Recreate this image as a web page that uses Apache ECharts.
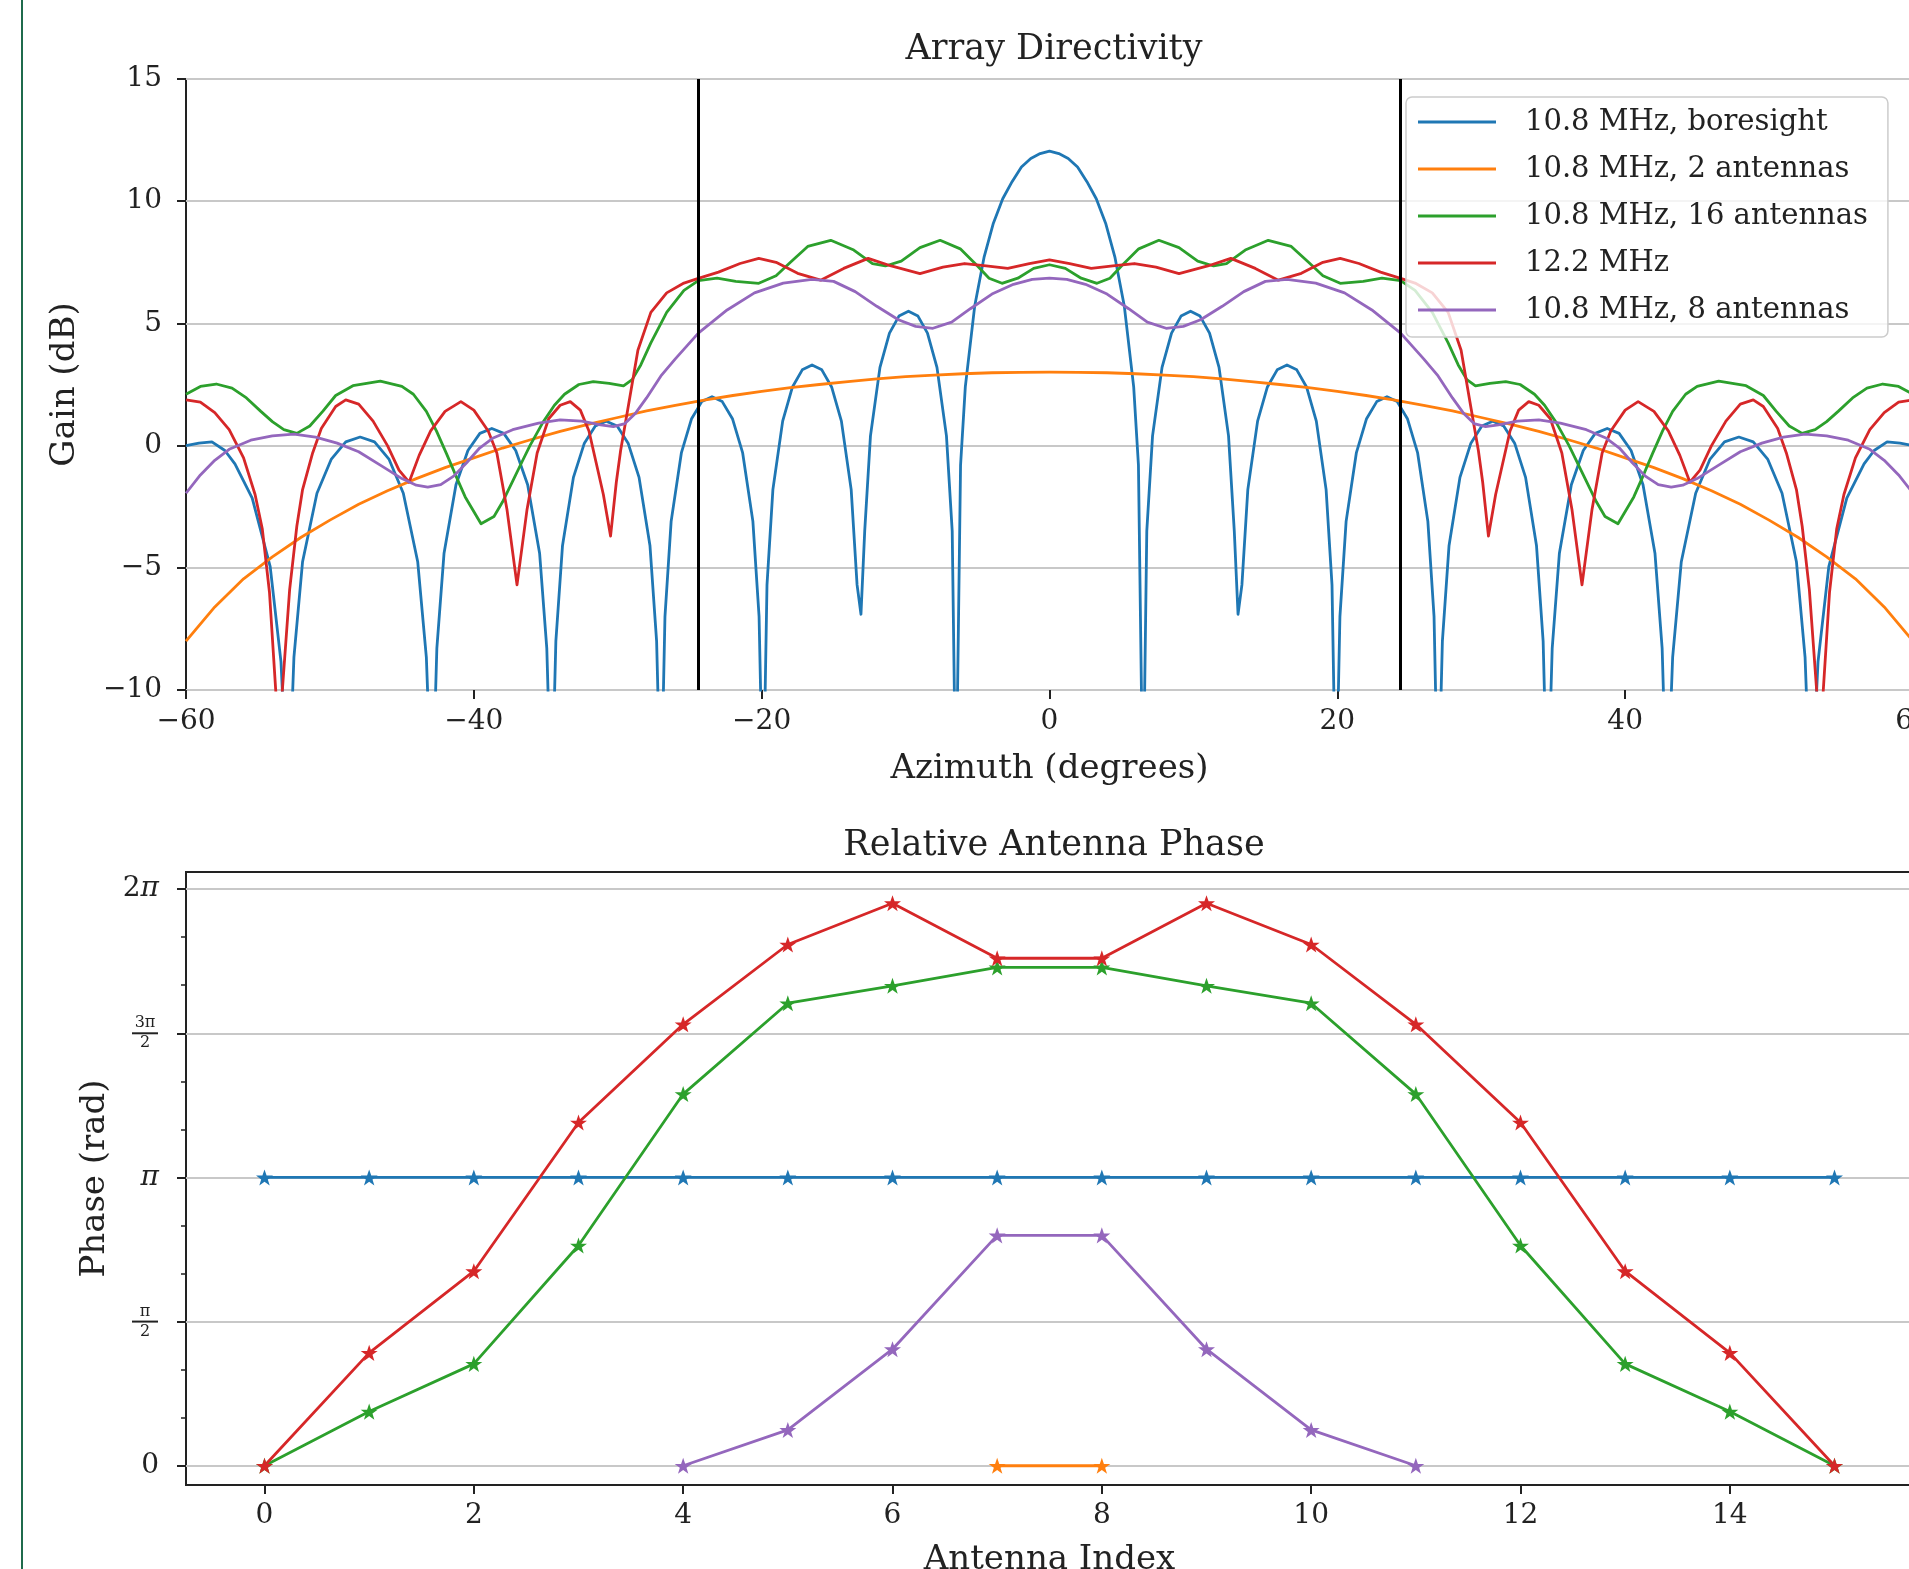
<!DOCTYPE html>
<html lang="en">
<head>
<meta charset="UTF-8">
<title>Array Directivity</title>
<style>
  html, body { margin: 0; padding: 0; overflow: hidden; background: #fff; }
  #main { width: 1960px; height: 1600px; }
</style>
</head>
<body>
<div id="main"></div>
<script src="https://cdn.jsdelivr.net/npm/echarts@6.0.0/dist/echarts.min.js"></script>
<script>
// top panel: [azimuth (deg), gain (dB)]
const gainBoresight = [
  [-60, 0.0], [-59.1, 0.1], [-58.2, 0.15], [-57.3, -0.2], [-56.6, -0.75], [-55.4, -2.15], [-54.15, -4.95], [-53.4, -8.85], [-52.9, -15],
  [-52.5, -8.65], [-51.9, -4.75], [-50.9, -1.95], [-49.9, -0.55], [-48.9, 0.15], [-47.9, 0.35], [-46.9, 0.15], [-45.9, -0.55], [-44.9, -1.95], [-43.9, -4.75], [-43.3, -8.65], [-42.9, -15],
  [-42.57, -8.3], [-42.07, -4.4], [-41.24, -1.6], [-40.41, -0.2], [-39.58, 0.5], [-38.75, 0.7], [-37.92, 0.5], [-37.09, -0.2], [-36.26, -1.6], [-35.43, -4.4], [-34.93, -8.3], [-34.6, -15],
  [-34.3, -8.0], [-33.84, -4.1], [-33.08, -1.3], [-32.32, 0.1], [-31.56, 0.8], [-30.8, 1.0], [-30.04, 0.8], [-29.28, 0.1], [-28.52, -1.3], [-27.76, -4.1], [-27.3, -8.0], [-27.0, -15],
  [-26.72, -7.0], [-26.29, -3.1], [-25.58, -0.3], [-24.87, 1.1], [-24.16, 1.8], [-23.45, 2.0], [-22.74, 1.8], [-22.03, 1.1], [-21.32, -0.3], [-20.61, -3.1], [-20.18, -7.0], [-19.9, -15],
  [-19.63, -5.7], [-19.22, -1.8], [-18.54, 1.0], [-17.86, 2.4], [-17.18, 3.1], [-16.5, 3.3], [-15.82, 3.1], [-15.14, 2.4], [-14.46, 1.0], [-13.78, -1.8], [-13.37, -5.7], [-13.1, -6.9],
  [-12.84, -3.5], [-12.44, 0.4], [-11.78, 3.2], [-11.12, 4.6], [-10.46, 5.3], [-9.8, 5.5], [-9.14, 5.3], [-8.48, 4.6], [-7.82, 3.2], [-7.16, 0.4], [-6.76, -3.5], [-6.5, -15],
  [-6.18, -0.8], [-5.85, 2.4], [-5.2, 5.7], [-4.55, 7.7], [-3.9, 9.1], [-3.25, 10.1], [-2.6, 10.8], [-1.95, 11.4], [-1.3, 11.75], [-0.65, 11.95], [0, 12.05],
  [0.65, 11.95], [1.3, 11.75], [1.95, 11.4], [2.6, 10.8], [3.25, 10.1], [3.9, 9.1], [4.55, 7.7], [5.2, 5.7], [5.85, 2.4], [6.18, -0.8], [6.5, -15],
  [6.76, -3.5], [7.16, 0.4], [7.82, 3.2], [8.48, 4.6], [9.14, 5.3], [9.8, 5.5], [10.46, 5.3], [11.12, 4.6], [11.78, 3.2], [12.44, 0.4], [12.84, -3.5], [13.1, -6.9],
  [13.37, -5.7], [13.78, -1.8], [14.46, 1.0], [15.14, 2.4], [15.82, 3.1], [16.5, 3.3], [17.18, 3.1], [17.86, 2.4], [18.54, 1.0], [19.22, -1.8], [19.63, -5.7], [19.9, -15],
  [20.18, -7.0], [20.61, -3.1], [21.32, -0.3], [22.03, 1.1], [22.74, 1.8], [23.45, 2.0], [24.16, 1.8], [24.87, 1.1], [25.58, -0.3], [26.29, -3.1], [26.72, -7.0], [27.0, -15],
  [27.3, -8.0], [27.76, -4.1], [28.52, -1.3], [29.28, 0.1], [30.04, 0.8], [30.8, 1.0], [31.56, 0.8], [32.32, 0.1], [33.08, -1.3], [33.84, -4.1], [34.3, -8.0], [34.6, -15],
  [34.93, -8.3], [35.43, -4.4], [36.26, -1.6], [37.09, -0.2], [37.92, 0.5], [38.75, 0.7], [39.58, 0.5], [40.41, -0.2], [41.24, -1.6], [42.07, -4.4], [42.57, -8.3], [42.9, -15],
  [43.3, -8.65], [43.9, -4.75], [44.9, -1.95], [45.9, -0.55], [46.9, 0.15], [47.9, 0.35], [48.9, 0.15], [49.9, -0.55], [50.9, -1.95], [51.9, -4.75], [52.5, -8.65], [52.9, -15],
  [53.4, -8.85], [54.15, -4.95], [55.4, -2.15], [56.6, -0.75], [57.3, -0.2], [58.2, 0.15], [59.1, 0.1], [60, 0.0]
];

const gain2 = [
  [-60, -8.0], [-58, -6.6], [-56, -5.45], [-54, -4.55], [-52, -3.75], [-50, -3.05], [-48, -2.4], [-46, -1.85],
  [-44, -1.35], [-42, -0.9], [-40, -0.5], [-38, -0.1], [-36, 0.25], [-34, 0.58], [-32, 0.88], [-30, 1.15],
  [-28, 1.42], [-26, 1.65], [-24, 1.86], [-22, 2.05], [-20, 2.22], [-18, 2.37], [-16, 2.5], [-14, 2.62],
  [-12, 2.73], [-10, 2.82], [-8, 2.88], [-6, 2.94], [-4, 2.98], [-2, 3.0], [0, 3.01],
  [2, 3.0], [4, 2.98], [6, 2.94], [8, 2.88], [10, 2.82], [12, 2.73], [14, 2.62], [16, 2.5], [18, 2.37],
  [20, 2.22], [22, 2.05], [24, 1.86], [26, 1.65], [28, 1.42], [30, 1.15], [32, 0.88], [34, 0.58], [36, 0.25],
  [38, -0.1], [40, -0.5], [42, -0.9], [44, -1.35], [46, -1.85], [48, -2.4], [50, -3.05], [52, -3.75],
  [54, -4.55], [56, -5.45], [58, -6.6], [60, -8.0]
];

const gain16 = [
  [-60, 2.1], [-59, 2.42], [-57.9, 2.52], [-56.8, 2.35], [-55.8, 1.95], [-54.8, 1.4], [-54, 0.98], [-53.2, 0.65],
  [-52.3, 0.5], [-51.4, 0.8], [-50.5, 1.4], [-49.6, 2.05], [-48.4, 2.45], [-46.5, 2.64], [-45, 2.42], [-44.2, 2.1],
  [-43.3, 1.4], [-42.6, 0.6], [-41.9, -0.33], [-41.2, -1.3], [-40.6, -2.1], [-39.5, -3.2], [-38.6, -2.9], [-38.0, -2.3],
  [-37.3, -1.45], [-36.6, -0.6], [-36.1, 0.0], [-35.2, 0.95], [-34.4, 1.65], [-33.7, 2.1], [-32.7, 2.5], [-31.7, 2.62],
  [-30.6, 2.55], [-29.6, 2.44], [-29.0, 2.7], [-28.4, 3.3], [-27.7, 4.2], [-26.6, 5.45], [-25.4, 6.35], [-24.4, 6.75],
  [-23.1, 6.85], [-21.8, 6.72], [-20.2, 6.64], [-19.0, 6.95], [-18.0, 7.5], [-16.8, 8.15], [-15.2, 8.4], [-13.6, 8.0],
  [-12.3, 7.45], [-11.4, 7.35], [-10.3, 7.55], [-9.0, 8.1], [-7.6, 8.4], [-6.2, 8.05], [-5.0, 7.35], [-4.2, 6.85],
  [-3.3, 6.64], [-2.2, 6.85], [-1.1, 7.25], [0, 7.4],
  [1.1, 7.25], [2.2, 6.85], [3.3, 6.64], [4.2, 6.85], [5.0, 7.35], [6.2, 8.05], [7.6, 8.4], [9.0, 8.1],
  [10.3, 7.55], [11.4, 7.35], [12.3, 7.45], [13.6, 8.0], [15.2, 8.4], [16.8, 8.15], [18.0, 7.5], [19.0, 6.95],
  [20.2, 6.64], [21.8, 6.72], [23.1, 6.85], [24.4, 6.75], [25.4, 6.35], [26.6, 5.45], [27.7, 4.2], [28.4, 3.3],
  [29.0, 2.7], [29.6, 2.44], [30.6, 2.55], [31.7, 2.62], [32.7, 2.5], [33.7, 2.1], [34.4, 1.65], [35.2, 0.95],
  [36.1, 0.0], [36.6, -0.6], [37.3, -1.45], [38.0, -2.3], [38.6, -2.9], [39.5, -3.2], [40.6, -2.1], [41.2, -1.3],
  [41.9, -0.33], [42.6, 0.6], [43.3, 1.4], [44.2, 2.1], [45, 2.42], [46.5, 2.64], [48.4, 2.45], [49.6, 2.05],
  [50.5, 1.4], [51.4, 0.8], [52.3, 0.5], [53.2, 0.65], [54, 0.98], [54.8, 1.4], [55.8, 1.95], [56.8, 2.35],
  [57.9, 2.52], [59, 2.42], [60, 2.1]
];

const gain122 = [
  [-60, 1.87], [-59, 1.78], [-58, 1.35], [-57, 0.65], [-56, -0.5], [-55.2, -2.0], [-54.7, -3.4], [-54.2, -6.0],
  [-53.55, -12], [-52.8, -5.9], [-52.3, -3.3], [-51.9, -1.8], [-51.2, -0.3], [-50.6, 0.7], [-49.6, 1.6], [-48.9, 1.87],
  [-48, 1.7], [-47, 1.0], [-46, 0.0], [-45.2, -1.0], [-44.5, -1.5], [-43.8, -0.4], [-43, 0.6], [-42, 1.4],
  [-40.9, 1.8], [-40, 1.45], [-39, 0.6], [-38.4, -0.3], [-37.7, -2.6], [-37.0, -5.7], [-36.3, -2.6], [-35.6, -0.3],
  [-34.8, 1.1], [-34, 1.65], [-33.3, 1.8], [-32.6, 1.45], [-32, 0.6], [-31.5, -0.7], [-31, -2.0], [-30.5, -3.7],
  [-30.1, -1.5], [-29.8, -0.2], [-29.3, 1.5], [-28.6, 3.9], [-27.7, 5.45], [-26.6, 6.25], [-25.4, 6.65], [-24.4, 6.84],
  [-23, 7.1], [-21.5, 7.45], [-20.2, 7.66], [-19, 7.5], [-17.5, 7.05], [-15.9, 6.77], [-14.3, 7.25], [-12.6, 7.66],
  [-11, 7.35], [-9.0, 7.04], [-7.4, 7.3], [-5.9, 7.45], [-4.4, 7.35], [-2.9, 7.25], [-1.4, 7.45], [0, 7.6],
  [1.4, 7.45], [2.9, 7.25], [4.4, 7.35], [5.9, 7.45], [7.4, 7.3], [9.0, 7.04], [11, 7.35], [12.6, 7.66],
  [14.3, 7.25], [15.9, 6.77], [17.5, 7.05], [19, 7.5], [20.2, 7.66], [21.5, 7.45], [23, 7.1], [24.4, 6.84],
  [25.4, 6.65], [26.6, 6.25], [27.7, 5.45], [28.6, 3.9], [29.3, 1.5], [29.8, -0.2], [30.1, -1.5], [30.5, -3.7],
  [31, -2.0], [31.5, -0.7], [32, 0.6], [32.6, 1.45], [33.3, 1.8], [34, 1.65], [34.8, 1.1], [35.6, -0.3],
  [36.3, -2.6], [37.0, -5.7], [37.7, -2.6], [38.4, -0.3], [39, 0.6], [40, 1.45], [40.9, 1.8], [42, 1.4],
  [43, 0.6], [43.8, -0.4], [44.5, -1.5], [45.2, -1.0], [46, 0.0], [47, 1.0], [48, 1.7], [48.9, 1.87],
  [49.6, 1.6], [50.6, 0.7], [51.2, -0.3], [51.9, -1.8], [52.3, -3.3], [52.8, -5.9], [53.55, -12], [54.2, -6.0],
  [54.7, -3.4], [55.2, -2.0], [56, -0.5], [57, 0.65], [58, 1.35], [59, 1.78], [60, 1.87]
];

const gain8 = [
  [-60, -1.95], [-59, -1.2], [-58, -0.6], [-57, -0.15], [-55.5, 0.22], [-54, 0.4], [-52.5, 0.47], [-51, 0.35],
  [-49.5, 0.1], [-48, -0.25], [-46.5, -0.8], [-45, -1.35], [-44, -1.62], [-43.2, -1.7], [-42.3, -1.6], [-41.4, -1.25],
  [-40.5, -0.7], [-39.6, -0.1], [-38.7, 0.3], [-37.3, 0.65], [-35.5, 0.92], [-34, 1.05], [-32.5, 1.0], [-31.2, 0.85],
  [-30.3, 0.78], [-29.5, 0.9], [-28.8, 1.3], [-28, 1.95], [-27, 2.85], [-26, 3.55], [-24.4, 4.6], [-22.4, 5.55],
  [-20.5, 6.25], [-18.5, 6.65], [-16.5, 6.8], [-15, 6.72], [-13.5, 6.3], [-12, 5.7], [-10.5, 5.15], [-9.3, 4.88],
  [-8.1, 4.8], [-6.8, 5.05], [-5.5, 5.6], [-4, 6.2], [-2.5, 6.6], [-1.2, 6.8], [0, 6.85],
  [1.2, 6.8], [2.5, 6.6], [4, 6.2], [5.5, 5.6], [6.8, 5.05], [8.1, 4.8], [9.3, 4.88], [10.5, 5.15],
  [12, 5.7], [13.5, 6.3], [15, 6.72], [16.5, 6.8], [18.5, 6.65], [20.5, 6.25], [22.4, 5.55], [24.4, 4.6],
  [26, 3.55], [27, 2.85], [28, 1.95], [28.8, 1.3], [29.5, 0.9], [30.3, 0.78], [31.2, 0.85], [32.5, 1.0],
  [34, 1.05], [35.5, 0.92], [37.3, 0.65], [38.7, 0.3], [39.6, -0.1], [40.5, -0.7], [41.4, -1.25], [42.3, -1.6],
  [43.2, -1.7], [44, -1.62], [45, -1.35], [46.5, -0.8], [48, -0.25], [49.5, 0.1], [51, 0.35], [52.5, 0.47],
  [54, 0.4], [55.5, 0.22], [57, -0.15], [58, -0.6], [59, -1.2], [60, -1.95]
];

// vertical markers on the directivity plot (deg)
const scanEdges = [-24.4, 24.4];

// bottom panel: relative phase (rad) per antenna index
const antennaIndex = [0, 1, 2, 3, 4, 5, 6, 7, 8, 9, 10, 11, 12, 13, 14, 15];
const phaseBoresight = [3.1416, 3.1416, 3.1416, 3.1416, 3.1416, 3.1416, 3.1416, 3.1416, 3.1416, 3.1416, 3.1416, 3.1416, 3.1416, 3.1416, 3.1416, 3.1416];
const index2 = [7, 8];
const phase2 = [0, 0];
const phase16 = [0, 0.59, 1.11, 2.40, 4.05, 5.04, 5.23, 5.43, 5.43, 5.23, 5.04, 4.05, 2.40, 1.11, 0.59, 0];
const phase122 = [0, 1.23, 2.12, 3.74, 4.81, 5.68, 6.13, 5.53, 5.53, 6.13, 5.68, 4.81, 3.74, 2.12, 1.23, 0];
const index8 = [4, 5, 6, 7, 8, 9, 10, 11];
const phase8 = [0, 0.39, 1.27, 2.51, 2.51, 1.27, 0.39, 0];

const phaseTicks = [0, 1.5708, 3.1416, 4.7124, 6.2832];
const phaseTickLabels = ['0', '{n|π}\n{bar| }\n{d|2}', '{i|π}', '{n|3π}\n{bar| }\n{d|2}', '2{i|π}'];
const phaseMinorTicks = [0.5236, 1.0472, 2.0944, 2.618, 3.6652, 4.1888, 5.236, 5.7596];
const antennaTicks = [0, 2, 4, 6, 8, 10, 12, 14];

const seriesNames = ['10.8 MHz, boresight', '10.8 MHz, 2 antennas', '10.8 MHz, 16 antennas', '12.2 MHz', '10.8 MHz, 8 antennas'];
const colors = ['#1f77b4', '#ff7f0e', '#2ca02c', '#d62728', '#9467bd'];

const FONT = 'DejaVu Serif';
const INK = '#222222';
const STAR = 'path://M50,0 L61.8,35.1 98.1,35.1 68.8,56.8 79.4,91 50,70 20.6,91 31.2,56.8 1.9,35.1 38.2,35.1 Z';

function minusFmt(v) {
  return v < 0 ? '\u2212' + Math.abs(v) : String(v);
}

function gainSeries(i, data) {
  return {
    name: seriesNames[i],
    type: 'line',
    xAxisIndex: 0,
    yAxisIndex: 0,
    data: data,
    symbol: 'none',
    lineStyle: { color: colors[i], width: 2.8, join: 'round' },
    itemStyle: { color: colors[i] },
    z: 3
  };
}

function phaseSeries(i, xs, ys) {
  return {
    name: 'phase ' + i,
    type: 'line',
    xAxisIndex: 1,
    yAxisIndex: 1,
    data: xs.map((x, k) => [x, ys[k]]),
    symbol: STAR,
    symbolSize: 17,
    symbolKeepAspect: true,
    lineStyle: { color: colors[i], width: 2.8 },
    itemStyle: { color: colors[i] },
    z: 3
  };
}

const tickStyle = { show: true, inside: false, length: 9, lineStyle: { color: INK, width: 2 } };
const labelStyle = { fontFamily: FONT, fontSize: 28, color: INK };
const nameStyle = { fontFamily: FONT, fontSize: 34, color: INK };
const gridLine = { show: true, lineStyle: { color: '#c8c8c8', width: 2 } };
const hiddenLine = { show: false, onZero: false };

var chart = echarts.init(document.getElementById('main'), null, { renderer: 'canvas' });

const blueTop = gainSeries(0, gainBoresight);
blueTop.markLine = {
  silent: true,
  symbol: 'none',
  label: { show: false },
  lineStyle: { color: '#000', width: 3, type: 'solid' },
  data: scanEdges.map(x => ({ xAxis: x }))
};

var option = {
  animation: false,
  backgroundColor: '#ffffff',
  title: [
    { text: 'Array Directivity', left: 1049, top: 27, textAlign: 'center',
      textStyle: { fontFamily: FONT, fontSize: 35, fontWeight: 'normal', color: INK } },
    { text: 'Relative Antenna Phase', left: 1049, top: 823, textAlign: 'center',
      textStyle: { fontFamily: FONT, fontSize: 35, fontWeight: 'normal', color: INK } }
  ],
  graphic: [
    { type: 'rect', shape: { x: 21, y: 0, width: 2, height: 1600 }, style: { fill: '#1f6b4c' }, silent: true }
  ],
  legend: {
    data: seriesNames,
    orient: 'vertical',
    left: 1406,
    top: 97,
    icon: 'rect',
    itemWidth: 78,
    itemHeight: 3,
    itemGap: 17,
    padding: [10, 20, 12, 12],
    backgroundColor: 'rgba(255,255,255,0.8)',
    borderColor: '#cccccc',
    borderWidth: 1.5,
    borderRadius: 6,
    textStyle: { fontFamily: FONT, fontSize: 29, lineHeight: 30, color: INK, padding: [0, 0, 0, 24] }
  },
  grid: [
    { left: 186, top: 79, width: 1727, height: 611, show: true, borderColor: INK, borderWidth: 2,
      outerBoundsMode: 'none', containLabel: false },
    { left: 186, top: 872, width: 1727, height: 613, show: true, borderColor: INK, borderWidth: 2,
      outerBoundsMode: 'none', containLabel: false }
  ],
  xAxis: [
    {
      type: 'value', gridIndex: 0, position: 'bottom', min: -60, max: 60, interval: 20,
      axisLine: hiddenLine,
      axisTick: tickStyle,
      axisLabel: Object.assign({ margin: 18, formatter: minusFmt }, labelStyle),
      splitLine: { show: false },
      name: 'Azimuth (degrees)', nameLocation: 'middle', nameGap: 62, nameTextStyle: nameStyle
    },
    {
      type: 'value', gridIndex: 1, position: 'bottom', min: -0.75, max: 15.75,
      axisLine: hiddenLine,
      axisTick: Object.assign({ customValues: antennaTicks }, tickStyle),
      axisLabel: Object.assign({ margin: 17, customValues: antennaTicks }, labelStyle),
      splitLine: { show: false },
      name: 'Antenna Index', nameLocation: 'middle', nameGap: 58, nameTextStyle: nameStyle
    }
  ],
  yAxis: [
    {
      type: 'value', gridIndex: 0, position: 'left', min: -10, max: 15, interval: 5,
      axisLine: hiddenLine,
      axisTick: tickStyle,
      axisLabel: Object.assign({ margin: 24, formatter: minusFmt }, labelStyle),
      splitLine: gridLine,
      name: 'Gain (dB)', nameLocation: 'middle', nameGap: 104, nameTextStyle: nameStyle
    },
    {
      type: 'value', gridIndex: 1, position: 'left', min: -0.21, max: 6.47,
      axisLine: hiddenLine,
      axisTick: Object.assign({ customValues: phaseTicks }, tickStyle),
      axisLabel: Object.assign({
        margin: 27,
        customValues: phaseTicks,
        formatter: function (v) {
          const k = phaseTicks.findIndex(t => Math.abs(t - v) < 1e-3);
          return k >= 0 ? phaseTickLabels[k] : '';
        },
        rich: {
          i: { fontFamily: FONT, fontSize: 28, fontStyle: 'italic', color: INK },
          n: { fontFamily: FONT, fontSize: 16, lineHeight: 16, color: INK, width: 28, align: 'center' },
          d: { fontFamily: FONT, fontSize: 16, lineHeight: 16, color: INK, width: 28, align: 'center' },
          bar: { fontSize: 1, lineHeight: 4, height: 2, width: 26, backgroundColor: INK, align: 'center' }
        }
      }, labelStyle),
      splitLine: gridLine,
      name: 'Phase (rad)', nameLocation: 'middle', nameGap: 74, nameTextStyle: nameStyle
    },
    {
      type: 'value', gridIndex: 1, position: 'left', offset: 0, min: -0.21, max: 6.47,
      axisLine: hiddenLine,
      axisTick: { show: true, inside: false, length: 5, customValues: phaseMinorTicks, lineStyle: { color: INK, width: 1.5 } },
      axisLabel: { show: false },
      splitLine: { show: false }
    }
  ],
  series: [
    blueTop,
    gainSeries(1, gain2),
    gainSeries(2, gain16),
    gainSeries(3, gain122),
    gainSeries(4, gain8),
    phaseSeries(0, antennaIndex, phaseBoresight),
    phaseSeries(1, index2, phase2),
    phaseSeries(2, antennaIndex, phase16),
    phaseSeries(3, antennaIndex, phase122),
    phaseSeries(4, index8, phase8)
  ]
};

option && chart.setOption(option);
</script>
</body>
</html>
